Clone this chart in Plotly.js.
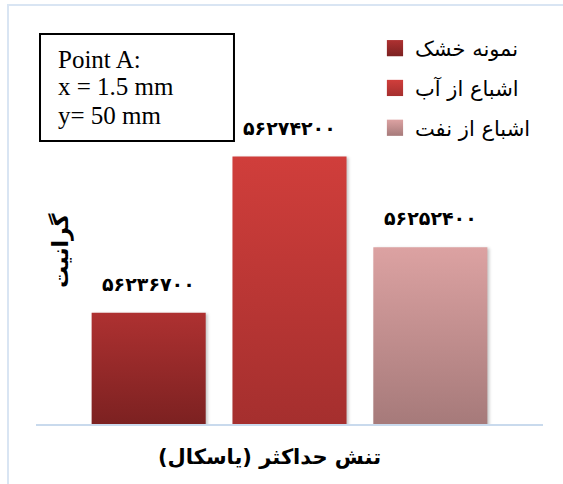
<!DOCTYPE html>
<html>
<head>
<meta charset="utf-8">
<script src="https://cdn.plot.ly/plotly-3.0.1.min.js"></script>
<style>
  html, body { margin: 0; padding: 0; background: #ffffff; overflow: hidden; }
  #wrap { position: relative; width: 563px; height: 484px; overflow: hidden; }
  #chart { width: 563px; height: 484px; }
  #frame { position: absolute; left: 7px; top: 4px; width: 700px; height: 700px;
           border-left: 2px solid #d9e5f3; border-top: 2px solid #d9e5f3;
           pointer-events: none; }
  .barlayer { filter: drop-shadow(2px 1px 1.5px rgba(0,0,0,0.22)); }
</style>
</head>
<body>
<div id="wrap">
  <div id="chart"></div>
  <div id="frame"></div>
</div>
<script>
// ---- Data ----
const seriesNames = ['نمونه خشک', 'اشباع از آب', 'اشباع از نفت'];
const seriesValues = [56236700, 56274200, 56252400];
const xAxisTitle = 'تنش حداکثر (یاسکال)';
const yAxisTitle = 'گرانیت';
const noteLines = ['Point A:', 'x = 1.5 mm', 'y= 50 mm'];

// ---- Styles ----
const gradTop = ['#ae3131', '#d03e3b', '#dca2a2'];
const gradBottom = ['#7c2121', '#a52f2e', '#a67a7a'];
const solid = ['#962a2a', '#bd3735', '#c48e8e'];
const faFont = 'DejaVu Sans';

function toFa(n) {
  return String(n).replace(/\d/g, d => '۰۱۲۳۴۵۶۷۸۹'[+d]);
}

const traces = seriesNames.map((name, i) => ({
  type: 'bar',
  name: name,
  x: [name],
  y: [seriesValues[i]],
  width: 0.81,
  legendgroup: 'g' + i,
  marker: { color: solid[i], line: { width: 0 } },
  hoverinfo: 'none'
}));

const labelAnnotations = seriesNames.map((name, i) => ({
  x: name, y: seriesValues[i], xref: 'x', yref: 'y',
  text: toFa(seriesValues[i]),
  showarrow: false, yanchor: 'middle', yshift: 29,
  font: { family: faFont, size: 19, color: '#000000', weight: 'bold' }
}));

const noteY = [0.91, 0.845, 0.7725];
const noteAnnotations = noteLines.map((t, i) => ({
  x: 0.0395, y: noteY[i], xref: 'paper', yref: 'paper',
  xanchor: 'left', yanchor: 'middle', showarrow: false,
  text: t, align: 'left',
  font: { family: 'Liberation Serif', size: 25, color: '#000000' }
}));

const layout = {
  width: 563, height: 484,
  margin: { l: 36, r: 20, t: 24, b: 60, pad: 0 },
  paper_bgcolor: '#ffffff', plot_bgcolor: 'rgba(0,0,0,0)',
  barmode: 'overlay',
  showlegend: true,
  legend: {
    x: 0.6686, y: 0.99, xanchor: 'left', yanchor: 'top',
    font: { family: faFont, size: 21, color: '#000000' },
    traceorder: 'grouped', tracegroupgap: 9.5,
    bgcolor: 'rgba(0,0,0,0)', borderwidth: 0
  },
  xaxis: {
    type: 'category', categoryarray: seriesNames, categoryorder: 'array',
    range: [-0.8, 2.8], showticklabels: false, ticks: '',
    showgrid: false, zeroline: false,
    showline: true, linecolor: '#c9daed', linewidth: 2
  },
  yaxis: {
    range: [56210000, 56306000], showticklabels: false, ticks: '',
    showgrid: false, zeroline: false, showline: false
  },
  shapes: [
    { type: 'rect', xref: 'paper', yref: 'paper',
      x0: 0.0079, x1: 0.3905, y0: 0.7075, y1: 0.975,
      line: { color: '#000000', width: 2 }, fillcolor: 'rgba(0,0,0,0)' }
  ],
  annotations: labelAnnotations.concat(noteAnnotations).concat([
    { x: 0.0493, y: 0.435, xref: 'paper', yref: 'paper', showarrow: false,
      text: yAxisTitle, textangle: -90, xanchor: 'center', yanchor: 'middle',
      font: { family: faFont, size: 22, color: '#000000', weight: 'bold' } },
    { x: 0.4615, y: -0.0825, xref: 'paper', yref: 'paper', showarrow: false,
      text: xAxisTitle, xanchor: 'center', yanchor: 'middle',
      font: { family: faFont, size: 21, color: '#000000', weight: 'bold' } }
  ])
};

const gd = document.getElementById('chart');

function makeGrad(defs, id, c1, c2, userSpace, y1, y2) {
  const ns = 'http://www.w3.org/2000/svg';
  let g = defs.querySelector('#' + id);
  if (g) g.remove();
  g = document.createElementNS(ns, 'linearGradient');
  g.setAttribute('id', id);
  if (userSpace) {
    g.setAttribute('gradientUnits', 'userSpaceOnUse');
    g.setAttribute('x1', '0'); g.setAttribute('x2', '0');
    g.setAttribute('y1', String(y1)); g.setAttribute('y2', String(y2));
  } else {
    g.setAttribute('x1', '0'); g.setAttribute('y1', '0');
    g.setAttribute('x2', '0'); g.setAttribute('y2', '1');
  }
  const s1 = document.createElementNS(ns, 'stop');
  s1.setAttribute('offset', '0'); s1.setAttribute('stop-color', c1);
  const s2 = document.createElementNS(ns, 'stop');
  s2.setAttribute('offset', '1'); s2.setAttribute('stop-color', c2);
  g.appendChild(s1); g.appendChild(s2);
  defs.appendChild(g);
}

function applyGradients() {
  const svg = gd.querySelector('.main-svg');
  if (!svg || !gd._fullLayout) return;
  const ns = 'http://www.w3.org/2000/svg';
  let defs = svg.querySelector('defs');
  if (!defs) { defs = document.createElementNS(ns, 'defs'); svg.insertBefore(defs, svg.firstChild); }
  const ya = gd._fullLayout.yaxis;
  seriesNames.forEach((_, i) => {
    const yTop = ya.l2p(seriesValues[i]);
    const yBot = ya._length;
    makeGrad(defs, 'barGrad' + i, gradTop[i], gradBottom[i], true, yTop, yBot);
    makeGrad(defs, 'legGrad' + i, gradTop[i], gradBottom[i], false);
  });
  gd.querySelectorAll('.barlayer .trace').forEach((tr, i) => {
    tr.querySelectorAll('path').forEach(p => {
      p.style.setProperty('fill', 'url(#barGrad' + i + ')', 'important');
    });
  });
  gd.querySelectorAll('.legend .traces').forEach((tr, i) => {
    tr.querySelectorAll('.legendpoints path').forEach(p => {
      p.style.setProperty('fill', 'url(#legGrad' + i + ')', 'important');
      if (!p.dataset.scaled) {
        p.setAttribute('transform', (p.getAttribute('transform') || '') + ' scale(1.35)');
        p.dataset.scaled = '1';
      }
    });
  });
}

const p = Plotly.newPlot(gd, traces, layout, { staticPlot: true, displayModeBar: false });
applyGradients();
if (p && p.then) p.then(applyGradients);
</script>
</body>
</html>
